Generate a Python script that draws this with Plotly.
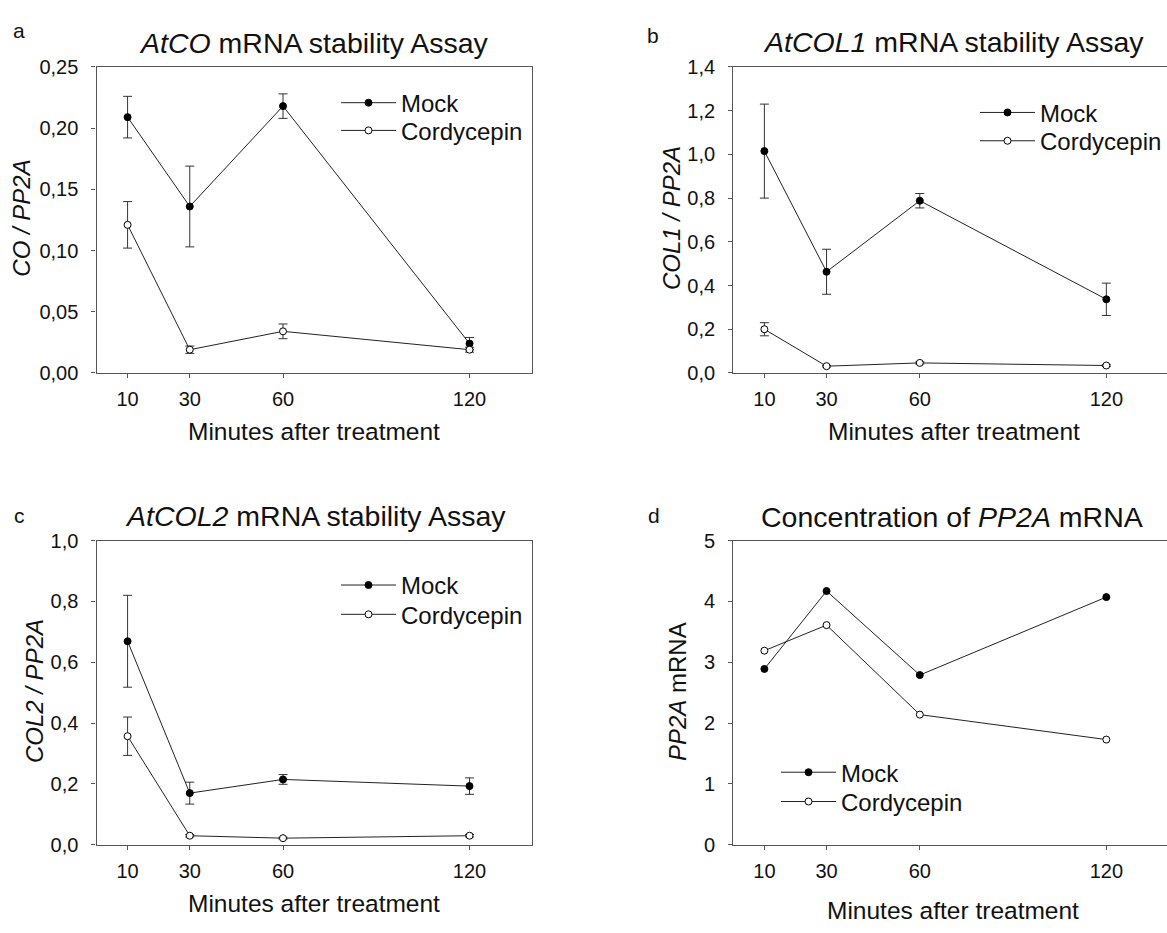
import plotly.graph_objects as go

# ---------------- data ----------------
minutes = [10, 30, 60, 120]
series_names = ["Mock", "Cordycepin"]

# panel a: AtCO
co_mock = [0.209, 0.136, 0.218, 0.024]
co_mock_err = [0.017, 0.033, 0.010, 0.005]
co_cord = [0.121, 0.019, 0.034, 0.019]
co_cord_err = [0.019, 0.003, 0.006, 0.002]

# panel b: AtCOL1
col1_mock = [1.015, 0.463, 0.788, 0.337]
col1_mock_err = [0.215, 0.103, 0.033, 0.074]
col1_cord = [0.200, 0.031, 0.046, 0.034]
col1_cord_err = [0.030, 0.004, 0.005, 0.004]

# panel c: AtCOL2
col2_mock = [0.669, 0.170, 0.215, 0.193]
col2_mock_err = [0.151, 0.036, 0.016, 0.027]
col2_cord = [0.357, 0.030, 0.022, 0.030]
col2_cord_err = [0.063, 0.004, 0.003, 0.004]

# panel d: PP2A
pp2a_mock = [2.89, 4.17, 2.79, 4.07]
pp2a_cord = [3.19, 3.61, 2.14, 1.73]

y_ticks_a = [0, 0.05, 0.10, 0.15, 0.20, 0.25]
y_ticks_b = [0, 0.2, 0.4, 0.6, 0.8, 1.0, 1.2, 1.4]
y_ticks_c = [0, 0.2, 0.4, 0.6, 0.8, 1.0]
y_ticks_d = [0, 1, 2, 3, 4, 5]

panel_titles = ["<i>AtCO</i> mRNA stability Assay",
                "<i>AtCOL1</i> mRNA stability Assay",
                "<i>AtCOL2</i> mRNA stability Assay",
                "Concentration of <i>PP2A</i> mRNA"]
y_titles = ["<i>CO / PP2A</i>", "<i>COL1 / PP2A</i>",
            "<i>COL2 / PP2A</i>", "<i>PP2A</i> mRNA"]
x_title = "Minutes after treatment"
letters = ["a", "b", "c", "d"]

# ---------------- layout geometry ----------------
W, H = 1167, 933
FONT = "Arial, 'Liberation Sans', Helvetica, sans-serif"
LINE = "#222222"
AX = "#555555"

def px(x):
    return x / W

def py(y):
    return 1 - y / H

xl_left, xr_left = 96.5, 531.7
xl_right = 733.3
width_px = xr_left - xl_left
right_range_max = 140 * (W - xl_right) / width_px

top_row = (57.3, 370.7)
bot_row = (542.3, 854.0)

fig = go.Figure()

def add_pair(mock, mock_err, cord, cord_err, axn, legend_names):
    xa = "x" if axn == 1 else f"x{axn}"
    ya = "y" if axn == 1 else f"y{axn}"
    for name, vals, errs, mcol, lg in [
        (series_names[0], mock, mock_err, "black", legend_names[0]),
        (series_names[1], cord, cord_err, "white", legend_names[1]),
    ]:
        tr = dict(
            x=minutes, y=vals, name=name, mode="lines+markers",
            xaxis=xa, yaxis=ya, legend=lg,
            line=dict(color=LINE, width=1),
            marker=dict(symbol="circle", size=7, color=mcol,
                        line=dict(color="black", width=1)),
            showlegend=True,
        )
        if errs is not None:
            tr["error_y"] = dict(type="data", array=errs, visible=True,
                                 color="#333333", thickness=1, width=4.5)
        fig.add_trace(go.Scatter(**tr))

add_pair(co_mock, co_mock_err, co_cord, co_cord_err, 1, ("legend", "legend2"))
add_pair(col1_mock, col1_mock_err, col1_cord, col1_cord_err, 2, ("legend3", "legend4"))
add_pair(col2_mock, col2_mock_err, col2_cord, col2_cord_err, 3, ("legend5", "legend6"))
add_pair(pp2a_mock, None, pp2a_cord, None, 4, ("legend7", "legend8"))

TICKFONT = dict(size=20, color="#111111", family=FONT)

def xaxis(domain, rng, anchor):
    return dict(domain=domain, range=rng, anchor=anchor,
                tickmode="array", tickvals=minutes,
                ticks="outside", ticklen=4, tickwidth=1.2, tickcolor=AX,
                showline=True, linecolor=AX, linewidth=1.3, mirror=True,
                showgrid=False, zeroline=False, ticklabelstandoff=4,
                tickfont=TICKFONT)

def yaxis(domain, rng, tv, fmt, anchor, mirror):
    return dict(domain=domain, range=rng, anchor=anchor,
                tickmode="array", tickvals=tv, tickformat=fmt,
                ticks="outside", ticklen=4, tickwidth=1.2, tickcolor=AX,
                showline=True, linecolor=AX, linewidth=1.3, mirror=mirror,
                showgrid=False, zeroline=False, ticklabelstandoff=9,
                tickfont=TICKFONT)

dx_left = [px(xl_left), px(xr_left)]
dx_right = [px(xl_right), 1.0]
dy_top = [py(top_row[1]), py(top_row[0])]
dy_bot = [py(bot_row[1]), py(bot_row[0])]

layout = dict(
    width=W, height=H,
    margin=dict(l=0, r=0, t=0, b=0),
    paper_bgcolor="white", plot_bgcolor="white",
    font=dict(family=FONT, color="#111111"),
    separators=", ",
    xaxis=xaxis(dx_left, [0, 140], "y"),
    yaxis=yaxis(dy_top, [0, 0.25], y_ticks_a, ".2f", "x", True),
    xaxis2=xaxis(dx_right, [0, right_range_max], "y2"),
    yaxis2=yaxis(dy_top, [0, 1.4], y_ticks_b, ".1f", "x2", False),
    xaxis3=xaxis(dx_left, [0, 140], "y3"),
    yaxis3=yaxis(dy_bot, [0, 1.0], y_ticks_c, ".1f", "x3", True),
    xaxis4=xaxis(dx_right, [0, right_range_max], "y4"),
    yaxis4=yaxis(dy_bot, [0, 5], y_ticks_d, "d", "x4", False),
)

def legend_at(x_left, y_mid):
    return dict(x=px(x_left), y=py(y_mid), xanchor="left", yanchor="middle",
                bgcolor="rgba(0,0,0,0)", borderwidth=0,
                font=dict(size=24, family=FONT, color="#111111"),
                itemwidth=55, tracegroupgap=0)

layout["legend"] = legend_at(336, 94.3)
layout["legend2"] = legend_at(336, 122.7)
layout["legend3"] = legend_at(975, 104.3)
layout["legend4"] = legend_at(975, 133.3)
layout["legend5"] = legend_at(336, 588.3)
layout["legend6"] = legend_at(336, 618.3)
layout["legend7"] = legend_at(776, 780.0)
layout["legend8"] = legend_at(776, 810.0)

fig.update_layout(**layout)

annotations = []
def ann(text, x, y, size, angle=0):
    annotations.append(dict(text=text, x=px(x), y=py(y), xref="paper", yref="paper",
                            xanchor="center", yanchor="middle", showarrow=False,
                            textangle=angle,
                            font=dict(size=size, family=FONT, color="#111111")))

# panel titles
ann(panel_titles[0], 314, 32.5, 28.5)
ann(panel_titles[1], 953.6, 31.7, 28.5)
ann(panel_titles[2], 315, 516.7, 28.5)
ann(panel_titles[3], 952, 518, 28.5)
# panel letters
ann(letters[0], 18.5, 19.6, 21)
ann(letters[1], 653, 25, 21)
ann(letters[2], 19.5, 517, 21)
ann(letters[3], 654, 517, 21)
# y axis titles
ann(y_titles[0], 21.2, 212.5, 24, -90)
ann(y_titles[1], 671.5, 212.5, 24, -90)
ann(y_titles[2], 34, 696.5, 24, -90)
ann(y_titles[3], 677, 697.5, 24, -90)
# x axis titles
ann(x_title, 314, 431, 24.5)
ann(x_title, 954, 431, 24.5)
ann(x_title, 314, 914, 24.5)
ann(x_title, 953, 921, 24.5)

fig.update_layout(annotations=annotations)

fig.write_html("out.html")
